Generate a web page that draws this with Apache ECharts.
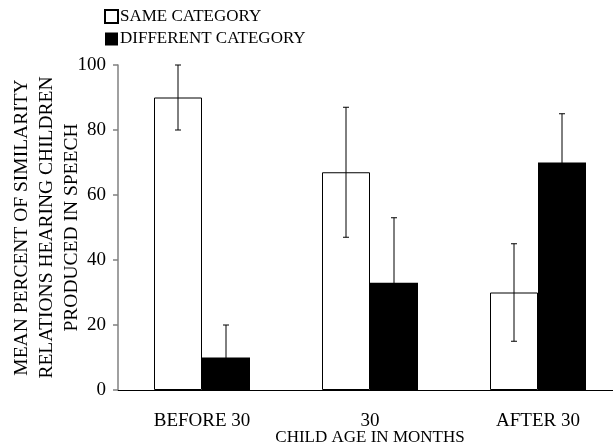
<!DOCTYPE html>
<html><head><meta charset="utf-8">
<script src="https://cdn.jsdelivr.net/npm/echarts@6/dist/echarts.min.js"></script>
<style>html,body{margin:0;padding:0;background:#fff}#c{width:613px;height:448px}</style>
</head><body><div id="c"></div>
<script>
var categories = ['BEFORE 30', '30', 'AFTER 30'];
var sameValues = [90, 67, 30];
var sameErr = [10, 20, 15];
var diffValues = [10, 33, 70];
var diffErr = [10, 20, 15];
var yTicks = [0, 20, 40, 60, 80, 100];

var FONT = '"Liberation Serif", "Times New Roman", serif';
var chart = echarts.init(document.getElementById('c'));

function errData(vals, errs) {
  return vals.map(function (v, i) { return [i, v - errs[i], v + errs[i]]; });
}
function errRender(offset) {
  return function (params, api) {
    var lo = api.coord([api.value(0), api.value(1)]);
    var hi = api.coord([api.value(0), api.value(2)]);
    var x = lo[0] + offset;
    var cap = 3;
    var st = { stroke: '#000', lineWidth: 1 };
    return { type: 'group', children: [
      { type: 'line', shape: { x1: x, y1: lo[1], x2: x, y2: hi[1] }, style: st },
      { type: 'line', shape: { x1: x - cap, y1: lo[1], x2: x + cap, y2: lo[1] }, style: st },
      { type: 'line', shape: { x1: x - cap, y1: hi[1], x2: x + cap, y2: hi[1] }, style: st }
    ]};
  };
}

chart.setOption({
  animation: false,
  textStyle: { fontFamily: FONT },
  legend: {
    orient: 'vertical', left: 99, top: 3, icon: 'rect',
    itemWidth: 13, itemHeight: 13, itemGap: 5.5,
    textStyle: { fontFamily: FONT, fontSize: 17, color: '#000', padding: [0, 0, 0, -3] },
    data: ['SAME CATEGORY', 'DIFFERENT CATEGORY']
  },
  grid: { left: 118, top: 65, width: 504, height: 325, outerBoundsMode: 'none', containLabel: false },
  xAxis: {
    type: 'category', data: categories,
    name: 'CHILD AGE IN MONTHS', nameLocation: 'middle', nameGap: 39, nameMoveOverlap: false,
    nameTextStyle: { fontFamily: FONT, fontSize: 17, color: '#000' },
    axisLine: { lineStyle: { color: '#000', width: 1 } },
    axisTick: { show: false },
    axisLabel: { fontFamily: FONT, fontSize: 19, color: '#000', margin: 22 }
  },
  yAxis: {
    type: 'value', min: 0, max: 100, interval: 20,
    name: 'MEAN PERCENT OF SIMILARITY\nRELATIONS HEARING CHILDREN\nPRODUCED IN SPEECH',
    nameLocation: 'middle', nameRotate: 90, nameGap: 34, nameMoveOverlap: false,
    nameTextStyle: { fontFamily: FONT, fontSize: 19.5, color: '#000', lineHeight: 25 },
    axisLine: { show: true, lineStyle: { color: '#808080', width: 1.5 } },
    axisTick: { show: true, length: 5, lineStyle: { color: '#808080', width: 1.5 } },
    splitLine: { show: false },
    axisLabel: { fontFamily: FONT, fontSize: 19, color: '#000', margin: 12,
      formatter: function (v) { return yTicks.indexOf(v) >= 0 ? String(v) : ''; } }
  },
  series: [
    { name: 'SAME CATEGORY', type: 'bar', data: sameValues, barWidth: 48, barGap: '0%',
      itemStyle: { color: '#fff', borderColor: '#000', borderWidth: 1 } },
    { name: 'DIFFERENT CATEGORY', type: 'bar', data: diffValues, barWidth: 48, barGap: '0%',
      itemStyle: { color: '#000', borderColor: '#000', borderWidth: 0 } },
    { type: 'custom', data: errData(sameValues, sameErr), renderItem: errRender(-24),
      encode: { x: 0, y: [1, 2] }, z: 10, silent: true },
    { type: 'custom', data: errData(diffValues, diffErr), renderItem: errRender(24),
      encode: { x: 0, y: [1, 2] }, z: 10, silent: true }
  ]
});
</script></body></html>
